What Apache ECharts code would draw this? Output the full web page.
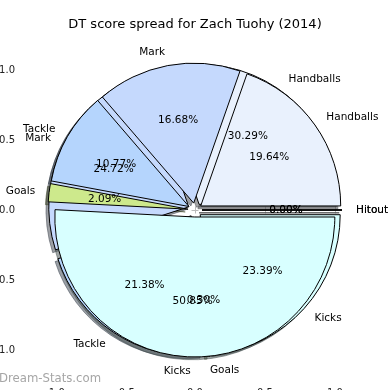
<!DOCTYPE html>
<html><head><meta charset="utf-8">
<script src="https://cdn.jsdelivr.net/npm/echarts@6/dist/echarts.min.js"></script>
<style>html,body{margin:0;padding:0;background:#fff}#c{width:390px;height:390px}</style>
</head><body><div id="c"></div>
<script>
const categories = ['Hitout', 'Handballs', 'Mark', 'Tackle', 'Goals', 'Kicks'];
const colors = ['#ffffff', '#e9f1fd', '#c5d9fd', '#b5d5fd', '#cde98c', '#d8ffff'];
const valuesUnder = [0, 30.29, 24.72, 21.38, 0.30, 23.39];
const valuesTop = [0, 19.64, 16.68, 10.77, 2.09, 50.85];
const tickValues = [-1, -0.5, 0, 0.5, 1];
const titleText = 'DT score spread for Zach Tuohy (2014)';
const watermarkText = 'Dream-Stats.com';

const FONT = 'DejaVu Sans';
const CX = 195, CY = 210, R = 140;
const OFF = 0.05 * R;
const SH = 0.02 * R;

function shadowColor(hex) {
  const n = parseInt(hex.slice(1), 16);
  const r = Math.round(((n >> 16) & 255) * 0.3), g = Math.round(((n >> 8) & 255) * 0.3), b = Math.round((n & 255) * 0.3);
  return 'rgba(' + r + ',' + g + ',' + b + ',0.5)';
}
const base = {
  type: 'pie', startAngle: 0, clockwise: false, selectedMode: 'multiple', selectedOffset: OFF,
  avoidLabelOverlap: false, silent: true, animation: false, emphasis: { disabled: true },
  labelLayout: { hideOverlap: false }
};
function shadowSeries(vals) {
  return Object.assign({}, base, {
    center: [CX - SH, CY + SH], radius: R, z: 1,
    label: { show: false }, labelLine: { show: false },
    select: { itemStyle: { borderWidth: 1 } },
    data: categories.map((n, i) => ({ name: n, value: vals[i], selected: true,
      itemStyle: { color: shadowColor(colors[i]), borderColor: shadowColor(colors[i]), borderWidth: 1 } }))
  });
}
function pieSeries(vals) {
  return Object.assign({}, base, {
    center: [CX, CY], radius: R, z: 3,
    label: { show: true, position: 'outside', formatter: '{b}', fontSize: 10.5, fontFamily: FONT, color: '#000', distanceToLabelLine: 0, overflow: 'none' },
    labelLine: { show: false, length: 0.1 * R, length2: 0 },
    select: { itemStyle: { borderColor: '#000', borderWidth: 1 } },
    data: categories.map((n, i) => ({ name: n, value: vals[i], selected: true,
      itemStyle: { color: colors[i], borderColor: '#000', borderWidth: 1 } }))
  });
}
function pctSeries(vals) {
  return Object.assign({}, base, {
    center: [CX, CY], radius: 2 * (0.6 * R - 3), z: 4,
    label: { show: true, position: 'inside', formatter: p => p.value.toFixed(2) + '%', fontSize: 10.5, fontFamily: FONT, color: '#000', overflow: 'none' },
    labelLine: { show: false },
    select: { itemStyle: { borderWidth: 0 } },
    data: categories.map((n, i) => ({ name: n, value: vals[i], selected: true,
      itemStyle: { color: 'rgba(0,0,0,0)', borderWidth: 0 } }))
  });
}
const axLeft = 23, axRight = 367, axTop = 37, axBottom = 383;
function axisCommon(showLabel, margin) {
  return {
    type: 'value', axisLine: { show: false }, splitLine: { show: false },
    axisTick: { show: true, inside: false, length: 3.5, lineStyle: { color: '#bbbbbb', width: 1 }, customValues: tickValues },
    axisLabel: { show: showLabel, customValues: tickValues, margin: margin, fontSize: 10, fontFamily: FONT, color: '#222',
      formatter: v => v.toFixed(1) }
  };
}
const option = {
  animation: false,
  title: [
    { text: titleText, left: 'center', top: 18, padding: 0, textStyle: { fontSize: 13, fontWeight: 'normal', fontFamily: FONT, color: '#000' } },
    { text: watermarkText, left: -1, top: 373, padding: 0, textStyle: { fontSize: 11.7, fontWeight: 'normal', fontFamily: FONT, color: '#a6a6a6' } }
  ],
  grid: { left: axLeft, right: 390 - axRight, top: axTop, bottom: 390 - axBottom, containLabel: false, outerBoundsMode: 'none' },
  xAxis: [
    Object.assign(axisCommon(true, 5), { position: 'bottom', min: (axLeft - CX) / R, max: (axRight - CX) / R }),
    Object.assign(axisCommon(false, 5), { position: 'top', min: (axLeft - CX) / R, max: (axRight - CX) / R })
  ],
  yAxis: [
    Object.assign(axisCommon(true, 8), { position: 'left', min: (CY - axBottom) / R, max: (CY - axTop) / R }),
    Object.assign(axisCommon(false, 8), { position: 'right', min: (CY - axBottom) / R, max: (CY - axTop) / R })
  ],
  series: [
    shadowSeries(valuesUnder), shadowSeries(valuesTop),
    pieSeries(valuesUnder), pieSeries(valuesTop),
    pctSeries(valuesUnder), pctSeries(valuesTop)
  ]
};
const chart = echarts.init(document.getElementById('c'), null, { renderer: 'canvas' });
chart.setOption(option);
</script>
</body></html>
